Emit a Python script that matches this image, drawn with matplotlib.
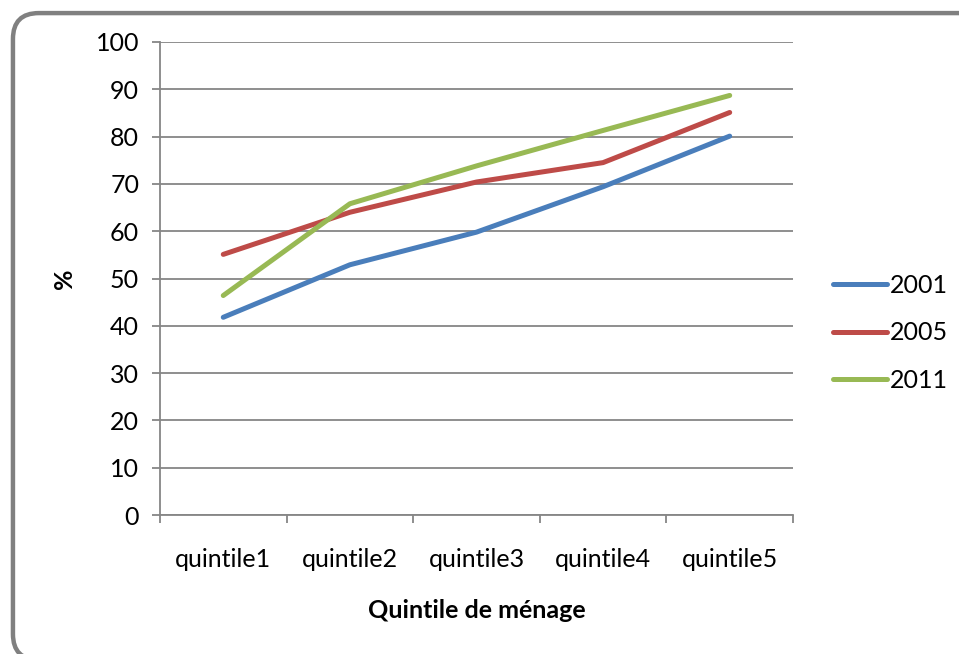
import matplotlib.pyplot as plt
from matplotlib.patches import FancyBboxPatch

plt.rcParams['font.family'] = ['Lato', 'DejaVu Sans']

categories = ['quintile1', 'quintile2', 'quintile3', 'quintile4', 'quintile5']
v2001 = [41.8, 52.9, 59.8, 69.4, 80.1]
v2005 = [55.1, 64.0, 70.4, 74.5, 85.1]
v2011 = [46.4, 65.8, 73.8, 81.3, 88.7]
years = ['2001', '2005', '2011']
colors = ['#4A7EBB', '#BE4B48', '#98B954']

fig = plt.figure(figsize=(9.59, 6.54), dpi=100)

# cadre arrondi
frame = FancyBboxPatch((0.0135, -0.009), 1.026, 0.989, boxstyle='round,pad=0,rounding_size=0.027',
                       transform=fig.transFigure, facecolor='none', edgecolor='#808080',
                       linewidth=3.2, zorder=-1, mutation_aspect=959/654)
fig.patches.append(frame)

ax = fig.add_axes([0.1668, 0.2125, 0.6601, 0.7233])
ax.patch.set_alpha(0)
x = range(len(categories))
for vals, c, lab in zip([v2001, v2005, v2011], colors, years):
    ax.plot(x, vals, color=c, lw=3.6, label=lab, solid_capstyle='round', zorder=3)

ax.set_xlim(-0.5, 4.5)
ax.set_ylim(0, 100)
ax.set_yticks(range(0, 101, 10))
ax.set_xticks(list(x))
ax.set_xticklabels(categories)
ax.set_xticks([i - 0.5 for i in range(6)], minor=True)
ax.tick_params(axis='x', which='major', length=0, pad=24, labelsize=18)
ax.tick_params(axis='x', which='minor', length=6, width=1.3, color='#868686', direction='out')
ax.tick_params(axis='y', length=6, width=1.3, color='#868686', labelsize=18, pad=9)
ax.grid(axis='y', color='#868686', lw=1.3)
for s in ['top', 'right']:
    ax.spines[s].set_visible(False)
for s in ['left', 'bottom']:
    ax.spines[s].set_color('#868686')
    ax.spines[s].set_linewidth(1.3)

ax.set_ylabel('%', fontweight='bold', fontsize=18, labelpad=14)
ax.set_xlabel('Quintile de ménage', fontweight='bold', fontsize=18, labelpad=20)

ax.legend(loc='center left', bbox_to_anchor=(1.0, 0.385), frameon=False, fontsize=18,
          handlelength=2.15, handletextpad=0.12, labelspacing=0.97, borderpad=0,
          borderaxespad=1.6)

fig.savefig('out.png', dpi=100)
